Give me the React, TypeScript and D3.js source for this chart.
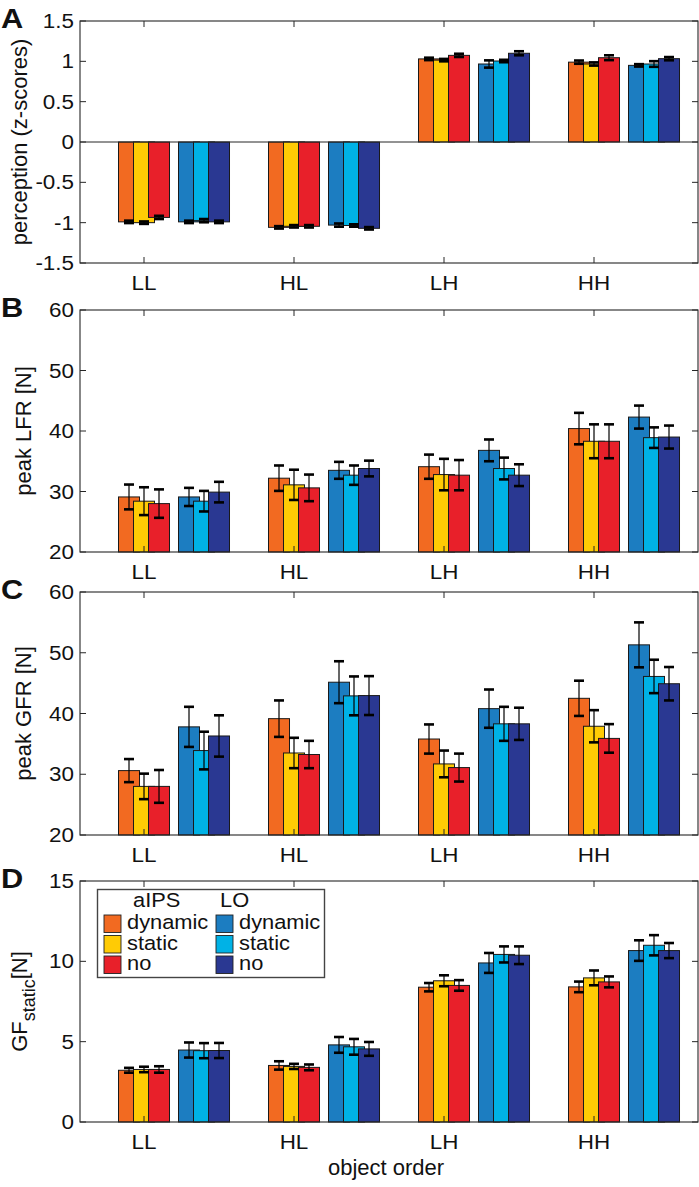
import * as d3 from "d3";

const categories = ["LL", "HL", "LH", "HH"];
const seriesLabels = ["dynamic", "static", "no", "dynamic", "static", "no"];
const groupLabels = ["aIPS", "LO"];
const seriesColors = ["#f26a21", "#ffcb05", "#e8202a", "#1c7dc1", "#00b2e6", "#2a3892"];

// rows = object order (LL, HL, LH, HH), columns = the six series
const perceptionMean = [
  [-0.99, -1.0, -0.935, -0.99, -0.975, -0.99],
  [-1.058, -1.045, -1.045, -1.03, -1.035, -1.07],
  [1.03, 1.015, 1.074, 0.967, 1.004, 1.1],
  [0.99, 0.967, 1.045, 0.95, 0.967, 1.033],
];
const perceptionErr = [
  [0.015, 0.015, 0.02, 0.015, 0.02, 0.015],
  [0.015, 0.015, 0.015, 0.02, 0.015, 0.015],
  [0.015, 0.015, 0.02, 0.045, 0.015, 0.025],
  [0.02, 0.02, 0.03, 0.015, 0.035, 0.02],
];

const lfrMean = [
  [29.1, 28.4, 28.0, 29.1, 28.4, 29.9],
  [32.2, 31.1, 30.6, 33.5, 32.7, 33.8],
  [34.1, 32.8, 32.7, 36.8, 33.8, 32.7],
  [40.4, 38.3, 38.3, 42.3, 38.9, 39.0],
];
const lfrErr = [
  [2.05, 2.3, 2.35, 1.5, 1.7, 1.7],
  [2.1, 2.5, 2.2, 1.4, 1.6, 1.3],
  [2.0, 2.6, 2.5, 1.8, 1.8, 1.8],
  [2.6, 2.8, 2.8, 1.9, 1.7, 1.9],
];

const gfrMean = [
  [30.6, 28.0, 28.0, 37.8, 33.9, 36.3],
  [39.15, 33.5, 33.25, 45.15, 42.9, 42.95],
  [35.8, 31.7, 31.1, 40.8, 38.3, 38.3],
  [42.5, 37.9, 35.9, 51.3, 46.1, 44.9],
];
const gfrErr = [
  [1.9, 2.1, 2.7, 3.3, 3.1, 3.4],
  [3.0, 2.5, 2.25, 3.45, 3.2, 3.2],
  [2.4, 2.2, 2.3, 3.15, 2.8, 2.65],
  [2.9, 2.65, 2.35, 3.7, 2.75, 2.75],
];

const gfStaticMean = [
  [3.22, 3.27, 3.27, 4.48, 4.44, 4.45],
  [3.52, 3.46, 3.4, 4.8, 4.68, 4.55],
  [8.39, 8.79, 8.5, 9.9, 10.43, 10.38],
  [8.41, 8.97, 8.72, 10.67, 11.0, 10.67],
];
const gfStaticErr = [
  [0.15, 0.17, 0.2, 0.47, 0.47, 0.47],
  [0.26, 0.16, 0.18, 0.49, 0.49, 0.43],
  [0.26, 0.34, 0.33, 0.62, 0.5, 0.55],
  [0.33, 0.46, 0.34, 0.64, 0.63, 0.47],
];

const perceptionTicks = [-1.5, -1, -0.5, 0, 0.5, 1, 1.5];
const forceTicks = [20, 30, 40, 50, 60];
const gfStaticTicks = [0, 5, 10, 15];

const WIDTH = 699;
const HEIGHT = 1187;
const LEFT = 80;
const RIGHT = 698;
const FONT = "'Liberation Sans', Arial, Helvetica, sans-serif";
const AXIS_COLOR = "#262626";
const TICK_LEN = 6;
const TEXT_STRETCH = 1.15;

// bar slot offsets (in category units) around each category tick
const SLOT_OFFSETS = [-0.1, 0, 0.1, 0.3, 0.4, 0.5];
const BAR_WIDTH = 0.14;

const x = d3.scaleLinear().domain([0.5733, 4.6933]).range([LEFT, RIGHT]);

interface PanelDef {
  letter: string;
  top: number;
  bottom: number;
  domain: [number, number];
  ticks: number[];
  means: number[][];
  errs: number[][];
  baseline: number;
  labelX: number;
}

const panels: PanelDef[] = [
  { letter: "A", top: 21, bottom: 263, domain: [-1.5, 1.5], ticks: perceptionTicks, means: perceptionMean, errs: perceptionErr, baseline: 0, labelX: 27 },
  { letter: "B", top: 310, bottom: 552, domain: [20, 60], ticks: forceTicks, means: lfrMean, errs: lfrErr, baseline: 20, labelX: 31 },
  { letter: "C", top: 592, bottom: 835, domain: [20, 60], ticks: forceTicks, means: gfrMean, errs: gfrErr, baseline: 20, labelX: 31 },
  { letter: "D", top: 881, bottom: 1122, domain: [0, 15], ticks: gfStaticTicks, means: gfStaticMean, errs: gfStaticErr, baseline: 0, labelX: 27 },
];

function Label({
  x: tx,
  y: ty,
  anchor = "start",
  size = 19.5,
  stretch = TEXT_STRETCH,
  weight = "normal",
  children,
}: {
  x: number;
  y: number;
  anchor?: "start" | "middle" | "end";
  size?: number;
  stretch?: number;
  weight?: string;
  children: React.ReactNode;
}) {
  return (
    <text
      transform={`translate(${tx},${ty}) scale(${stretch},1)`}
      textAnchor={anchor}
      fontSize={size}
      fontWeight={weight}
      fill="#111"
    >
      {children}
    </text>
  );
}

function Panel({ p }: { p: PanelDef }) {
  const y = d3.scaleLinear().domain(p.domain).range([p.bottom, p.top]);
  const bw = x(BAR_WIDTH) - x(0);
  const capHalf = 5;

  return (
    <g>
      {/* bars, drawn in series order so later bars overlap earlier ones */}
      {categories.map((cat, ci) => (
        <g key={cat}>
          {p.means[ci].map((v, si) => {
            const cx = x(ci + 1 + SLOT_OFFSETS[si]);
            const y0 = y(p.baseline);
            const y1 = y(v);
            return (
              <rect
                key={si}
                x={cx - bw / 2}
                y={Math.min(y0, y1)}
                width={bw}
                height={Math.abs(y1 - y0)}
                fill={seriesColors[si]}
                stroke="#1a1a1a"
                strokeWidth={1}
              />
            );
          })}
        </g>
      ))}

      {/* error bars */}
      {categories.map((cat, ci) => (
        <g key={`e${cat}`}>
          {p.means[ci].map((v, si) => {
            const cx = x(ci + 1 + SLOT_OFFSETS[si]);
            const hi = y(v + p.errs[ci][si]);
            const lo = y(v - p.errs[ci][si]);
            return (
              <g key={si} stroke="#000">
                <line x1={cx} x2={cx} y1={hi} y2={lo} strokeWidth={1.2} />
                <line x1={cx - capHalf} x2={cx + capHalf} y1={hi} y2={hi} strokeWidth={2.6} />
                <line x1={cx - capHalf} x2={cx + capHalf} y1={lo} y2={lo} strokeWidth={2.6} />
              </g>
            );
          })}
        </g>
      ))}

      {/* zero baseline for the z-score panel */}
      {p.baseline !== p.domain[0] && (
        <line x1={LEFT} x2={RIGHT} y1={y(p.baseline)} y2={y(p.baseline)} stroke={AXIS_COLOR} strokeWidth={1} />
      )}

      {/* axes box with inward ticks on all sides */}
      <rect x={LEFT} y={p.top} width={RIGHT - LEFT} height={p.bottom - p.top} fill="none" stroke={AXIS_COLOR} strokeWidth={1.1} />
      {p.ticks.map((t) => (
        <g key={t} stroke={AXIS_COLOR} strokeWidth={1}>
          <line x1={LEFT} x2={LEFT + TICK_LEN} y1={y(t)} y2={y(t)} />
          <line x1={RIGHT} x2={RIGHT - TICK_LEN} y1={y(t)} y2={y(t)} />
        </g>
      ))}
      {categories.map((c, ci) => (
        <g key={c} stroke={AXIS_COLOR} strokeWidth={1}>
          <line x1={x(ci + 1)} x2={x(ci + 1)} y1={p.bottom} y2={p.bottom - TICK_LEN} />
          <line x1={x(ci + 1)} x2={x(ci + 1)} y1={p.top} y2={p.top + TICK_LEN} />
        </g>
      ))}

      {/* tick labels */}
      {p.ticks.map((t) => (
        <Label key={t} x={74} y={y(t) + 7} anchor="end">
          {String(t)}
        </Label>
      ))}
      {categories.map((c, ci) => (
        <Label key={c} x={x(ci + 1)} y={p.bottom + 27} anchor="middle">
          {c}
        </Label>
      ))}

      {/* panel letter */}
      <Label x={1} y={p.top + 7} size={28} weight="bold" stretch={1.1}>
        {p.letter}
      </Label>
    </g>
  );
}

function YLabels() {
  const mid = (p: PanelDef) => (p.top + p.bottom) / 2;
  const [a, b, c, d] = panels;
  const common = { textAnchor: "middle" as const, fontSize: 22, fill: "#111" };
  return (
    <g>
      <text transform={`translate(${a.labelX},${mid(a)}) rotate(-90)`} {...common}>
        perception (z-scores)
      </text>
      <text transform={`translate(${b.labelX},${mid(b)}) rotate(-90)`} {...common}>
        peak LFR [N]
      </text>
      <text transform={`translate(${c.labelX},${mid(c)}) rotate(-90)`} {...common}>
        peak GFR [N]
      </text>
      <text transform={`translate(${d.labelX},${mid(d)}) rotate(-90)`} {...common}>
        GF
        <tspan fontSize={18} dy={8}>
          static
        </tspan>
        <tspan dy={-8}>[N]</tspan>
      </text>
    </g>
  );
}

function Legend() {
  const boxX = 97.5;
  const boxY = 889.5;
  const colX = [104, 216];
  const textX = [127, 239];
  const headX = [133, 220];
  const rowTop = [915, 935.5, 956];
  return (
    <g>
      <rect x={boxX} y={boxY} width={227} height={88} fill="#fff" stroke="#444" strokeWidth={1.4} />
      {groupLabels.map((g, gi) => (
        <Label key={g} x={headX[gi]} y={907} size={19.5} stretch={1.12}>
          {g}
        </Label>
      ))}
      {seriesLabels.map((s, si) => {
        const gi = si < 3 ? 0 : 1;
        const ri = si % 3;
        return (
          <g key={si}>
            <rect
              x={colX[gi]}
              y={rowTop[ri]}
              width={17}
              height={17.5}
              fill={seriesColors[si]}
              stroke="#222"
              strokeWidth={0.9}
            />
            <Label x={textX[gi]} y={rowTop[ri] + 14} size={19.5} stretch={1.12}>
              {s}
            </Label>
          </g>
        );
      })}
    </g>
  );
}

export default function App() {
  return (
    <div style={{ position: "absolute", left: 0, top: 0, background: "#fff" }}>
      <svg width={WIDTH} height={HEIGHT} fontFamily={FONT} style={{ display: "block" }}>
        <rect width={WIDTH} height={HEIGHT} fill="#fff" />
        {panels.map((p) => (
          <Panel key={p.letter} p={p} />
        ))}
        <YLabels />
        <Legend />
        <text x={386} y={1175} textAnchor="middle" fontSize={22} fill="#111">
          object order
        </text>
      </svg>
    </div>
  );
}
